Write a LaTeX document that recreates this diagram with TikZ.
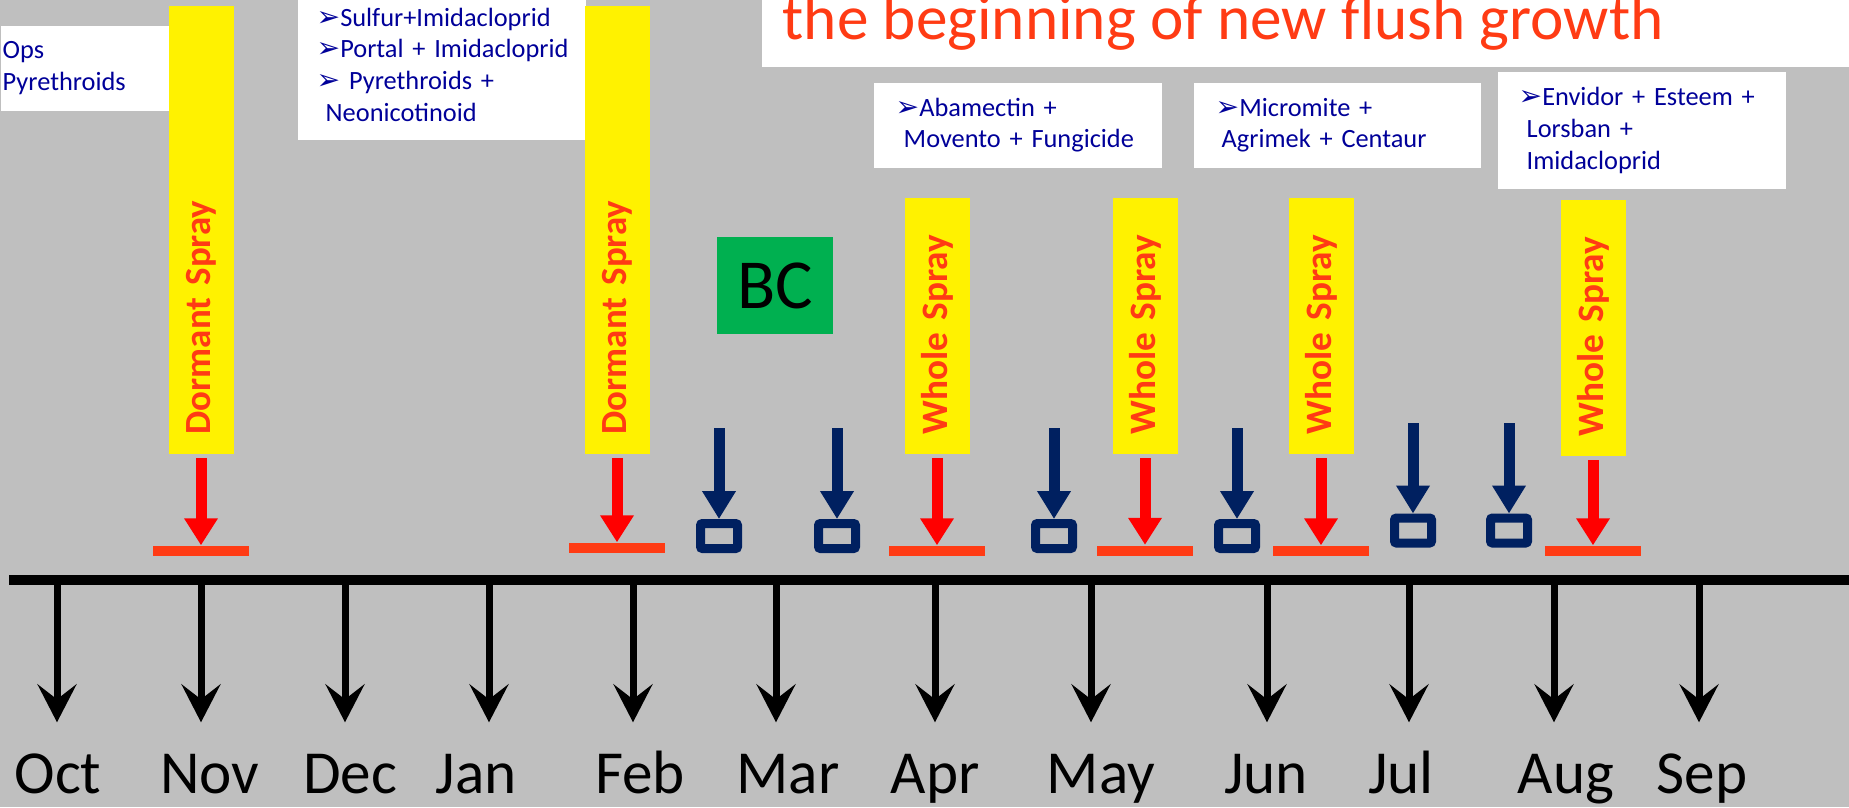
\documentclass[tikz,border=0pt]{standalone}
\usepackage{fontspec}
\setmainfont{Carlito}
\newfontfamily\dingfont{DejaVu Sans}
\usepackage{xcolor}
\usetikzlibrary{arrows.meta, positioning}

\definecolor{slide}{RGB}{191,191,191}
\definecolor{sprayred}{RGB}{255,0,0}
\definecolor{flush}{RGB}{255,59,20}
\definecolor{navy}{RGB}{0,32,96}
\definecolor{bcgreen}{RGB}{0,176,80}
\definecolor{mixblue}{RGB}{0,0,153}
\newcommand{\arrbullet}{{\dingfont\fontsize{8}{9}\selectfont ➢}}

\begin{document}
\begin{tikzpicture}[
  x=0.1mm, y=-0.1mm,
  mixbox/.style={fill=white, anchor=north west, align=left, text=mixblue, inner ysep=0pt,
    font=\fontsize{7.5}{9.05}\selectfont},
  spraybar/.style={fill=yellow, rotate=90, anchor=west, minimum height=6.5mm, inner xsep=2mm,
    inner ysep=0pt, align=left, text=flush},
  dormant/.style={spraybar, minimum width=44.8mm, text width=40.8mm,
    font=\bfseries\fontsize{10.5}{13}\selectfont},
  whole/.style={spraybar, minimum width=25.6mm, text width=21.6mm,
    font=\bfseries\fontsize{10.6}{13}\selectfont},
  base/.style={fill=flush, minimum width=9.6mm, minimum height=1mm, inner sep=0pt},
  trap/.style={draw=navy, line width=0.9mm, minimum width=3.7mm, minimum height=2.5mm,
    inner sep=0pt, rounded corners=0.2mm},
  bcbox/.style={fill=bcgreen, minimum width=11.6mm, minimum height=9.7mm, inner sep=0pt,
    font=\fontsize{20}{24}\selectfont},
  month/.style={anchor=base, inner sep=0pt, text height=4mm, text depth=1mm,
    font=\fontsize{17.4}{20}\selectfont},
  sprayarrow/.style={draw=sprayred, line width=1.1mm, shorten <=0.3mm,
    -{Triangle[length=2.7mm, width=3.2mm]}},
  traparrow/.style={draw=navy, line width=1.1mm, -{Triangle[length=2.8mm, width=3.2mm]}},
  montharrow/.style={line width=0.7mm, shorten >=3mm,
    -{Stealth[length=3.8mm, width=3.9mm, inset=1.5mm]}},
]
\useasboundingbox (0,0) rectangle (1849,807);
\fill[slide] (0,0) rectangle (1849,807);
\clip (0,0) rectangle (1849,807);

% --- Product boxes
\node[mixbox, minimum width=17mm, minimum height=8.5mm, text width=16.6mm, inner xsep=0.2mm,
  yshift=-0.3mm] (opsbox) at (0,22) {Ops\\Pyrethroids};
\node[mixbox, minimum width=28.8mm, minimum height=15mm, text width=25mm, inner xsep=1.9mm]
  (sulfurbox) at (297,-11) {\mbox{\arrbullet Sulfur+Imidacloprid}\\
  \mbox{\arrbullet Portal + Imidacloprid}\\\mbox{\arrbullet\ Pyrethroids +}\\
  \hspace*{0.9mm}Neonicotinoid};
\node[mixbox, minimum width=28.8mm, minimum height=8.5mm, text width=24.4mm, inner xsep=2.2mm]
  (abamectinbox) at (873,82) {\arrbullet Abamectin +\\\hspace*{0.8mm}\mbox{Movento + Fungicide}};
\node[mixbox, minimum width=28.7mm, minimum height=8.5mm, text width=24.3mm, inner xsep=2.2mm]
  (micromitebox) at (1193,82) {\arrbullet Micromite +\\\hspace*{0.6mm}\mbox{Agrimek + Centaur}};
\node[mixbox, minimum width=28.8mm, minimum height=11.7mm, text width=24.6mm, inner xsep=2.1mm]
  (envidorbox) at (1497,71) {\mbox{\arrbullet Envidor + Esteem +}\\\hspace*{0.8mm}Lorsban +\\
  \hspace*{0.8mm}Imidacloprid};

% --- Title
\node[fill=white, anchor=south west, minimum width=110mm, minimum height=8mm, inner sep=0pt]
  (titlebox) at (761,68) {};
\node[anchor=base west, inner sep=0pt, text=flush, font=\fontsize{18}{22}\selectfont]
  (flushtext) at (782,39) {the beginning of new flush growth};

% --- Spray bars, bases and arrows
\node[dormant] (novspray) at (201,455) {Dormant Spray};
\node[dormant] (febspray) at (617,455) {Dormant Spray};
\node[whole] (aprspray) at (937,455) {Whole Spray};
\node[whole] (mayspray) at (1145,455) {Whole Spray};
\node[whole] (junspray) at (1321,455) {Whole Spray};
\node[whole] (augspray) at (1593,457) {Whole Spray};

\node[base] (novbase) at (201,551) {};
\node[base] (febbase) at (617,548) {};
\node[base] (aprbase) at (937,551) {};
\node[base] (maybase) at (1145,550.5) {};
\node[base] (junbase) at (1321,551) {};
\node[base] (augbase) at (1593,551) {};

\draw[sprayarrow] (novspray.west) -- (novbase.north);
\draw[sprayarrow] (febspray.west) -- (febbase.north);
\draw[sprayarrow] (aprspray.west) -- (aprbase.north);
\draw[sprayarrow] (mayspray.west) -- (maybase.north);
\draw[sprayarrow] (junspray.west) -- (junbase.north);
\draw[sprayarrow] (augspray.west) -- (augbase.north);

% --- BC
\node[bcbox] (bc) at (775,285.5) {BC};

% --- Traps
\node[trap] (trap1) at (719,536) {};
\node[trap] (trap2) at (837,536) {};
\node[trap] (trap3) at (1054,536) {};
\node[trap] (trap4) at (1237,536) {};
\node[trap] (trap5) at (1413,530.5) {};
\node[trap] (trap6) at (1509,530.5) {};
\coordinate (drop1) at (719,428);
\coordinate (drop2) at (837,428);
\coordinate (drop3) at (1054,428);
\coordinate (drop4) at (1237,428);
\coordinate (drop5) at (1413,423);
\coordinate (drop6) at (1509,423);
\draw[traparrow] (drop1) -- (trap1.north);
\draw[traparrow] (drop2) -- (trap2.north);
\draw[traparrow] (drop3) -- (trap3.north);
\draw[traparrow] (drop4) -- (trap4.north);
\draw[traparrow] (drop5) -- (trap5.north);
\draw[traparrow] (drop6) -- (trap6.north);

% --- Timeline and months
\coordinate (tlstart) at (9,580);
\coordinate (tlend) at (1849,580);
\draw[line width=1mm] (tlstart) -- (tlend);

\coordinate (tOct) at (57,580);   \node[month] (oct) at (58,793) {Oct};
\coordinate (tNov) at (201,580);  \node[month] (nov) at (210,793) {Nov};
\coordinate (tDec) at (345,580);  \node[month] (dec) at (350,793) {Dec};
\coordinate (tJan) at (489,580);  \node[month] (jan) at (476,793) {Jan};
\coordinate (tFeb) at (633,580);  \node[month] (feb) at (640,793) {Feb};
\coordinate (tMar) at (776,580);  \node[month] (mar) at (788,793) {Mar};
\coordinate (tApr) at (935,580);  \node[month] (apr) at (935,793) {Apr};
\coordinate (tMay) at (1091,580); \node[month] (may) at (1101,793) {May};
\coordinate (tJun) at (1267,580); \node[month] (jun) at (1266,793) {Jun};
\coordinate (tJul) at (1409,580); \node[month] (jul) at (1401,793) {Jul};
\coordinate (tAug) at (1554,580); \node[month] (aug) at (1566,793) {Aug};
\coordinate (tSep) at (1699,580); \node[month] (sep) at (1702,793) {Sep};

\draw[montharrow] (tOct) -- (tOct |- oct.north);
\draw[montharrow] (tNov) -- (tNov |- nov.north);
\draw[montharrow] (tDec) -- (tDec |- dec.north);
\draw[montharrow] (tJan) -- (tJan |- jan.north);
\draw[montharrow] (tFeb) -- (tFeb |- feb.north);
\draw[montharrow] (tMar) -- (tMar |- mar.north);
\draw[montharrow] (tApr) -- (tApr |- apr.north);
\draw[montharrow] (tMay) -- (tMay |- may.north);
\draw[montharrow] (tJun) -- (tJun |- jun.north);
\draw[montharrow] (tJul) -- (tJul |- jul.north);
\draw[montharrow] (tAug) -- (tAug |- aug.north);
\draw[montharrow] (tSep) -- (tSep |- sep.north);

\end{tikzpicture}
\end{document}
